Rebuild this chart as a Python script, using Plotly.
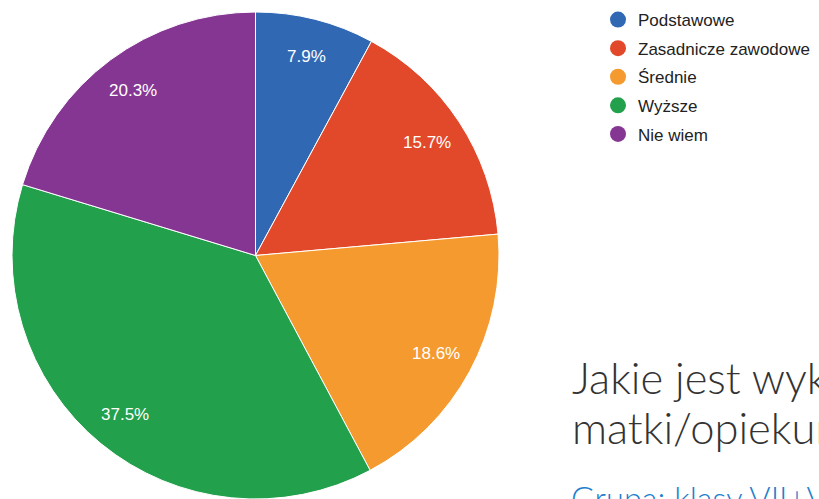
import numpy as np
import plotly.graph_objects as go

labels = ["Podstawowe", "Zasadnicze zawodowe", "Średnie", "Wyższe", "Nie wiem"]
values = [7.9, 15.7, 18.6, 37.5, 20.3]
colors = ["#3168b4", "#e2492a", "#f59a2f", "#22a04b", "#853693"]

title_lines = ["Jakie jest wykształcenie", "matki/opiekunki?"]
subtitle = "Grupa: klasy VII+VIII"

W, H = 819, 499
# pie box in pixels
px_left, px_right = 12, 499
py_top, py_bottom = 12, 499
dom_x = [px_left / W, px_right / W]
dom_y = [1 - py_bottom / H, 1 - py_top / H]
cx = (px_left + px_right) / 2
cy = (py_top + py_bottom) / 2
R = (px_right - px_left) / 2

fig = go.Figure()

fig.add_trace(go.Pie(
    labels=labels,
    values=values,
    sort=False,
    direction="clockwise",
    rotation=0,
    marker=dict(colors=colors, line=dict(color="white", width=1)),
    textinfo="none",
    hoverinfo="label+percent",
    showlegend=False,
    domain=dict(x=dom_x, y=dom_y),
))

# percentage labels placed along the slice mid-angles
total = sum(values)
cum = np.cumsum([0] + values[:-1])
annotations = []
for v, c in zip(values, cum):
    theta = 2 * np.pi * (c + v / 2) / total
    r = 0.845 * R
    x = cx + r * np.sin(theta)
    y = cy - r * np.cos(theta)
    annotations.append(dict(
        x=x / W, y=1 - y / H, xref="paper", yref="paper",
        xanchor="center", yanchor="middle",
        text=f"{v:.1f}%", showarrow=False,
        font=dict(family="Liberation Sans, Arial", size=17, color="white"),
    ))

# legend made of circle markers
for i, (lab, col) in enumerate(zip(labels, colors)):
    fig.add_trace(go.Scatter(
        x=[None], y=[None], mode="markers", name=lab,
        legendgroup=f"g{i}",
        marker=dict(symbol="circle", size=18, color=col),
    ))

# question title, one annotation per line
for k, line in enumerate(title_lines):
    annotations.append(dict(
        x=570 / W, y=1 - (349 + 50 * k) / H, xref="paper", yref="paper",
        xanchor="left", yanchor="top", align="left",
        text=line, showarrow=False,
        font=dict(family="Lato", size=43.5, color="#333333", weight=300),
    ))
annotations.append(dict(
    x=569 / W, y=1 - 477 / H, xref="paper", yref="paper",
    xanchor="left", yanchor="top", align="left",
    text=subtitle, showarrow=False,
    font=dict(family="Lato", size=32.5, color="#1f7fcc", weight=300),
))

fig.update_layout(
    width=W, height=H,
    margin=dict(l=0, r=0, t=0, b=0),
    paper_bgcolor="white", plot_bgcolor="white",
    xaxis=dict(visible=False), yaxis=dict(visible=False),
    legend=dict(
        x=598 / W, y=1 - 2 / H, xanchor="left", yanchor="top",
        font=dict(family="Liberation Sans, Arial", size=17, color="#222222"),
        tracegroupgap=3.5, bgcolor="rgba(0,0,0,0)",
    ),
    annotations=annotations,
)

fig.write_html(
    "out.html",
    config={"displayModeBar": False},
    post_script="document.body.style.margin='0';document.body.style.overflow='hidden';",
)
